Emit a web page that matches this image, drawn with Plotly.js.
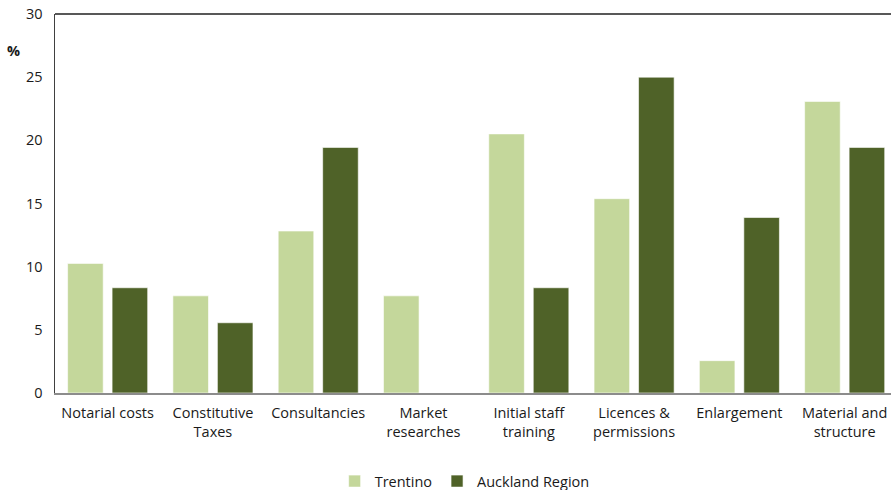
<!DOCTYPE html>
<html>
<head>
<meta charset="utf-8">
<script src="https://cdn.plot.ly/plotly-3.0.1.min.js"></script>
<style>html,body{margin:0;padding:0;background:#fff;}#chart{width:891px;height:490px;}</style>
</head>
<body>
<div id="chart"></div>
<script>
var categories = ["Notarial costs", "Constitutive<br>Taxes", "Consultancies", "Market<br>researches", "Initial staff<br>training", "Licences &<br>permissions", "Enlargement", "Material and<br>structure"];
var trentino = [10.26, 7.69, 12.82, 7.69, 20.51, 15.38, 2.56, 23.08];
var auckland = [8.33, 5.56, 19.44, 0, 8.33, 25.0, 13.89, 19.44];
var yTicks = [0, 5, 10, 15, 20, 25, 30];

var font = {family: "Open Sans, Liberation Sans, sans-serif", size: 14.5, color: "#1a1a1a"};
var data = [
  {type: "bar", name: "Trentino", x: categories, y: trentino,
   marker: {color: "#c4d79b", line: {color: "#ffffff", width: 0.6}}, hoverinfo: "none"},
  {type: "bar", name: "Auckland Region", x: categories, y: auckland,
   marker: {color: "#4f6228", line: {color: "#ffffff", width: 0.6}}, hoverinfo: "none"}
];
var layout = {
  width: 891, height: 490,
  margin: {l: 55, r: 0, t: 14, b: 97, autoexpand: false},
  paper_bgcolor: "#fff", plot_bgcolor: "#fff",
  font: font,
  barmode: "group", bargap: 0.155, bargroupgap: 0.2,
  showlegend: true,
  legend: {orientation: "h", x: 0.49, xanchor: "center", yref: "container", y: 0.018, yanchor: "middle",
           font: font, itemwidth: 30, traceorder: "normal"},
  xaxis: {type: "category", range: [-0.5, 7.44], showline: true, linecolor: "#8c8c8c", linewidth: 1.5,
          ticks: "", showgrid: false, zeroline: false, tickfont: font, fixedrange: true,
          ticklabelstandoff: 6, automargin: false},
  yaxis: {range: [0, 30], tickvals: yTicks, ticktext: yTicks.map(String), showline: true,
          linecolor: "#404040", linewidth: 1.5, ticks: "", showgrid: false, zeroline: false,
          tickfont: font, ticklabelstandoff: 8, fixedrange: true, automargin: false},
  shapes: [{type: "line", xref: "paper", yref: "paper", x0: 0, x1: 1, y0: 1, y1: 1,
            line: {color: "#202020", width: 1.5}}],
  annotations: [{text: "<b>%</b>", xref: "paper", yref: "paper", x: -0.05, y: 0.905,
                 xanchor: "center", yanchor: "middle", showarrow: false, font: font}]
};
Plotly.newPlot("chart", data, layout, {displayModeBar: false, staticPlot: true});
</script>
</body>
</html>
